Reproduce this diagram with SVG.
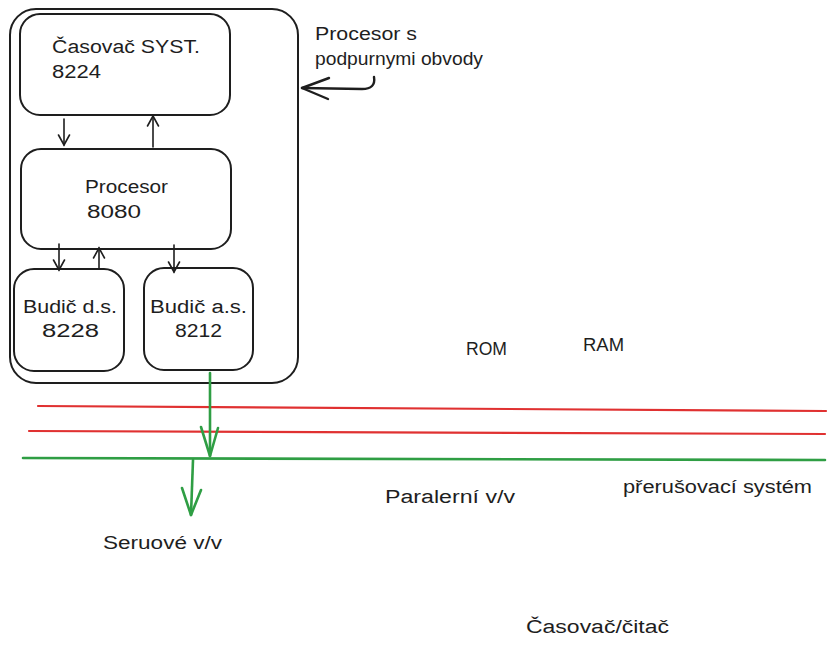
<svg xmlns="http://www.w3.org/2000/svg" width="835" height="650" viewBox="0 0 835 650">
<defs>
<style>
.box{fill:none;stroke:#1e1e1e;stroke-width:2}
.t{font-family:"Liberation Sans",Arial,sans-serif;font-size:18px;fill:#1e1e1e}
.ln{fill:none;stroke:#1e1e1e;stroke-width:1.6;stroke-linecap:round}
.red{fill:none;stroke:#e03131;stroke-width:2.2;stroke-linecap:round}
.grn{fill:none;stroke:#2f9e44;stroke-width:2.6;stroke-linecap:round;stroke-linejoin:round}
</style>
<marker id="ah" markerWidth="14" markerHeight="14" refX="11" refY="7" orient="auto" markerUnits="userSpaceOnUse">
<path d="M1,1.5 L11,7 L1,12.5" fill="none" stroke="#1e1e1e" stroke-width="1.6" stroke-linecap="round"/>
</marker>
</defs>
<rect width="835" height="650" fill="#ffffff"/>
<g id="outer"><rect class="box" x="10" y="9" width="288" height="374" rx="26"/></g>
<g id="casovac"><rect class="box" x="20" y="14" width="210" height="101" rx="20"/>
<text class="t" x="52" y="53" textLength="148" lengthAdjust="spacingAndGlyphs">Časovač SYST.</text><text class="t" x="52" y="78" textLength="49" lengthAdjust="spacingAndGlyphs">8224</text></g>
<g id="procesor"><rect class="box" x="21" y="149" width="210" height="100" rx="20"/>
<text class="t" x="85" y="193" textLength="83" lengthAdjust="spacingAndGlyphs">Procesor</text><text class="t" x="87" y="218" textLength="54" lengthAdjust="spacingAndGlyphs">8080</text></g>
<g id="budic-ds"><rect class="box" x="14" y="269" width="110" height="102" rx="20"/>
<text class="t" x="23" y="313" textLength="94" lengthAdjust="spacingAndGlyphs">Budič d.s.</text><text class="t" x="42" y="337" textLength="57" lengthAdjust="spacingAndGlyphs">8228</text></g>
<g id="budic-as"><rect class="box" x="144" y="268" width="109" height="102" rx="20"/>
<text class="t" x="150" y="313" textLength="97" lengthAdjust="spacingAndGlyphs">Budič a.s.</text><text class="t" x="175" y="337" textLength="47" lengthAdjust="spacingAndGlyphs">8212</text></g>
<g id="labels">
<text class="t" x="315" y="40" textLength="102" lengthAdjust="spacingAndGlyphs">Procesor s</text>
<text class="t" x="315" y="65" textLength="168" lengthAdjust="spacingAndGlyphs">podpurnymi obvody</text>
<text class="t" x="466" y="355" textLength="41" lengthAdjust="spacingAndGlyphs">ROM</text>
<text class="t" x="583" y="351" textLength="41" lengthAdjust="spacingAndGlyphs">RAM</text>
<text class="t" x="385" y="503" textLength="130" lengthAdjust="spacingAndGlyphs">Paralerní v/v</text>
<text class="t" x="623" y="493" textLength="189" lengthAdjust="spacingAndGlyphs">přerušovací systém</text>
<text class="t" x="103" y="549" textLength="119" lengthAdjust="spacingAndGlyphs">Seruové v/v</text>
<text class="t" x="526" y="633" textLength="143" lengthAdjust="spacingAndGlyphs">Časovač/čitač</text>
</g>
<g id="connectors">
<path class="ln" d="M64,119 L64,145" marker-end="url(#ah)"/>
<path class="ln" d="M153,147 L153,116" marker-end="url(#ah)"/>
<path class="ln" d="M59,244 L59,270" marker-end="url(#ah)"/>
<path class="ln" d="M99,268 L99,248" marker-end="url(#ah)"/>
<path class="ln" d="M174,245 L174,272" marker-end="url(#ah)"/>
<path d="M374,77 Q376,89 362,89 L302,88" fill="none" stroke="#1e1e1e" stroke-width="2.4" stroke-linecap="round"/>
<path d="M329,78 L302,88 L328,99" fill="none" stroke="#1e1e1e" stroke-width="2.4" stroke-linecap="round" stroke-linejoin="round"/>
<path class="red" d="M38,406 L826,411"/>
<path class="red" d="M29,431 L825,434"/>
<path class="grn" d="M23,458 L825,460"/>
<path class="grn" d="M210,373 L210,456"/>
<path class="grn" d="M201,427 L210,456 L218,428"/>
<path class="grn" d="M193,460 L191,515"/>
<path class="grn" d="M182,488 L191,515 L201,490"/>
</g>
</svg>
